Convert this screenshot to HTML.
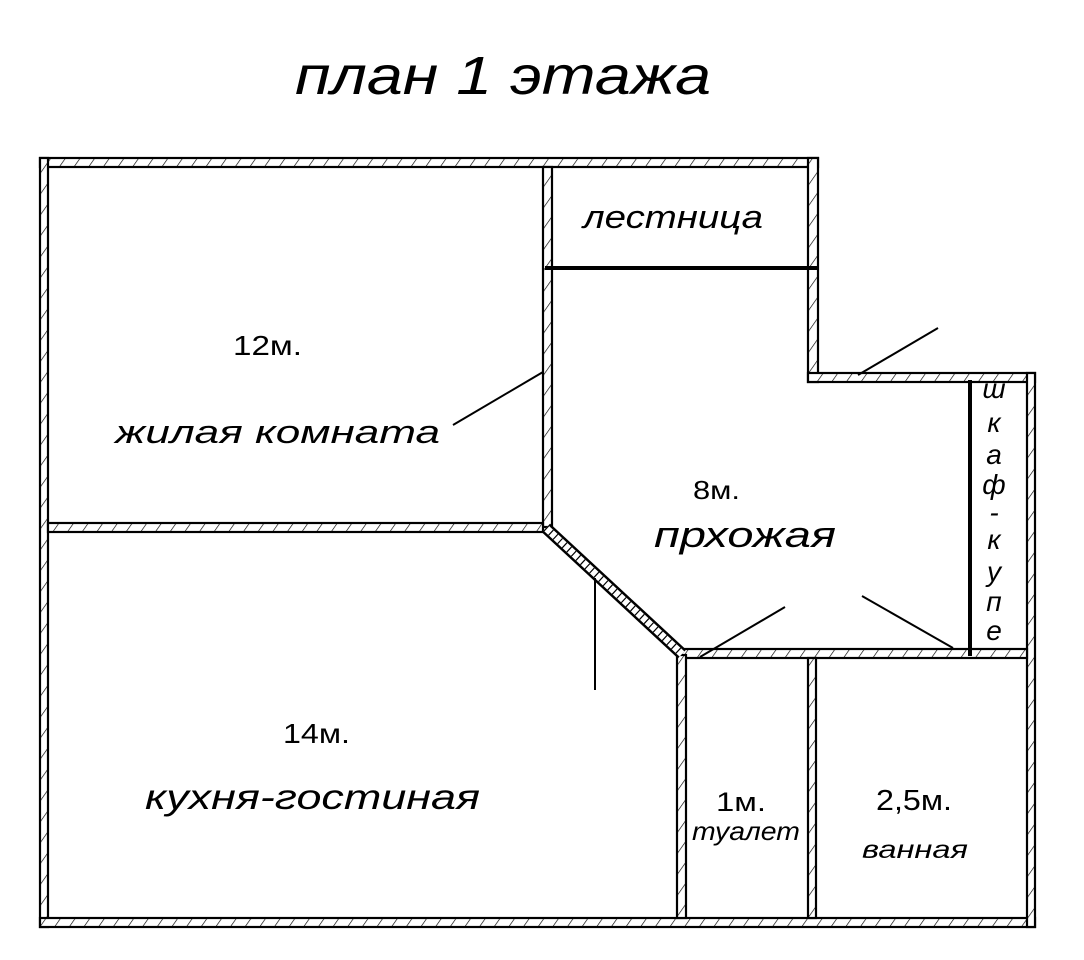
<!DOCTYPE html>
<html><head><meta charset="utf-8"><style>
html,body{margin:0;padding:0;background:#fff;}
svg{display:block;}
text{font-family:"Liberation Sans","DejaVu Sans",sans-serif;fill:#000;}
.it{font-style:italic;}
</style></head><body>
<svg width="1084" height="960" viewBox="0 0 1084 960" xmlns="http://www.w3.org/2000/svg">
<defs>
<pattern id="h" patternUnits="userSpaceOnUse" width="12" height="12" patternTransform="rotate(35)">
<rect width="12" height="12" fill="#fff"/>
<line x1="0" y1="0" x2="0" y2="12" stroke="#000" stroke-width="1.3"/>
</pattern>
</defs>
<g fill="url(#h)" stroke="#000" stroke-width="2.2">
<rect x="40" y="158" width="778" height="9"/>
<rect x="40" y="158" width="8" height="769"/>
<rect x="40" y="918" width="995" height="9"/>
<rect x="808" y="158" width="10" height="224"/>
<rect x="808" y="373" width="227" height="9"/>
<rect x="1027" y="373" width="8" height="554"/>
<rect x="543" y="167" width="9" height="360"/>
<rect x="48" y="523" width="495" height="9"/>
<rect x="680" y="649" width="347" height="9"/>
<rect x="677" y="655" width="9" height="263"/>
<rect x="808" y="658" width="8" height="260"/>
</g>
<line x1="546" y1="528" x2="682" y2="654" stroke="#000" stroke-width="12"/>
<line x1="546" y1="528" x2="682" y2="654" stroke="#fff" stroke-width="7"/>
<line x1="546" y1="528" x2="682" y2="654" stroke="#000" stroke-width="7" stroke-dasharray="1.2 5"/>
<line x1="545" y1="268" x2="818" y2="268" stroke="#000" stroke-width="4"/>
<line x1="970" y1="380" x2="970" y2="656" stroke="#000" stroke-width="4"/>
<g stroke="#000" stroke-width="2">
<line x1="453" y1="425" x2="543" y2="372"/>
<line x1="858" y1="375" x2="938" y2="328"/>
<line x1="595" y1="578" x2="595" y2="690"/>
<line x1="700" y1="657" x2="785" y2="607"/>
<line x1="862" y1="596" x2="953" y2="648"/>
</g>
<g lengthAdjust="spacingAndGlyphs">
<text x="295" y="94" font-size="54" class="it" textLength="416" lengthAdjust="spacingAndGlyphs">план 1 этажа</text>
<text x="583" y="228" font-size="32" class="it" textLength="180" lengthAdjust="spacingAndGlyphs">лестница</text>
<text x="233" y="355" font-size="28" textLength="69" lengthAdjust="spacingAndGlyphs">12м.</text>
<text x="115" y="443" font-size="32" class="it" textLength="325" lengthAdjust="spacingAndGlyphs">жилая комната</text>
<text x="693" y="499" font-size="26" textLength="47" lengthAdjust="spacingAndGlyphs">8м.</text>
<text x="654" y="547" font-size="36" class="it" textLength="182" lengthAdjust="spacingAndGlyphs">прхожая</text>
<text x="283" y="743" font-size="28" textLength="67" lengthAdjust="spacingAndGlyphs">14м.</text>
<text x="145" y="809" font-size="35" class="it" textLength="335" lengthAdjust="spacingAndGlyphs">кухня-гостиная</text>
<text x="716" y="811" font-size="27" textLength="50" lengthAdjust="spacingAndGlyphs">1м.</text>
<text x="692" y="840" font-size="26" class="it" textLength="108" lengthAdjust="spacingAndGlyphs">туалет</text>
<text x="876" y="810" font-size="29" textLength="76" lengthAdjust="spacingAndGlyphs">2,5м.</text>
<text x="862" y="858" font-size="25" class="it" textLength="106" lengthAdjust="spacingAndGlyphs">ванная</text>
</g>
<g font-size="28" class="it" text-anchor="middle">
<text x="994" y="398">ш</text>
<text x="994" y="432">к</text>
<text x="994" y="464">а</text>
<text x="994" y="494">ф</text>
<text x="994" y="522">-</text>
<text x="994" y="549">к</text>
<text x="994" y="581">у</text>
<text x="994" y="611">п</text>
<text x="994" y="640">е</text>
</g>
</svg>
</body></html>
